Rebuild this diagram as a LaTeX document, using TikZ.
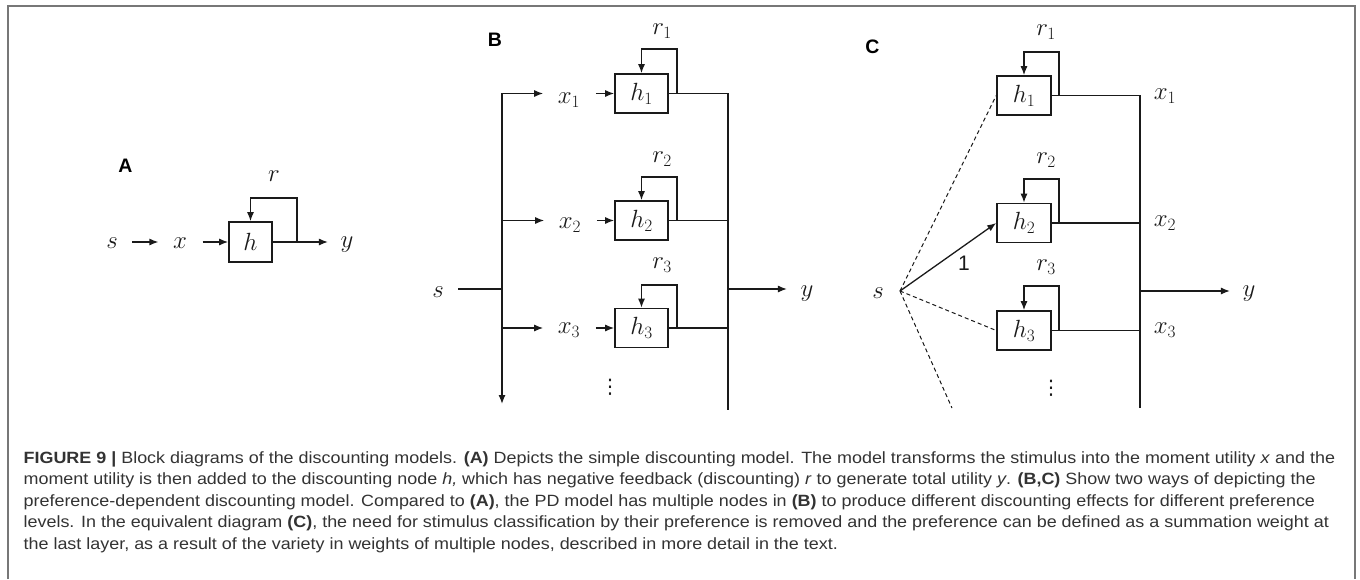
\documentclass[tikz,border=0pt]{standalone}
\usepackage{fontspec}
\usetikzlibrary{arrows.meta}
\newfontfamily\capfont[FakeStretch=1.1]{Liberation Sans}
\newfontfamily\labfont{Liberation Sans}
\newfontfamily\dvfont{DejaVu Sans}
\definecolor{ink}{HTML}{1A1A1A}
\definecolor{captxt}{HTML}{333333}
\definecolor{framec}{HTML}{777777}
\newcommand\mfont{\fontsize{27}{30}\selectfont}
\begin{document}
\begin{tikzpicture}[x=1pt,y=-1pt,color=ink,line width=1.3pt,
  blk/.style={draw=ink,line width=1.6pt,minimum width=53pt,minimum height=39pt,inner sep=0pt,font=\mfont},
  lbl/.style={inner sep=0pt,font=\mfont,text=ink},
  vd/.style={inner sep=0pt,text=ink,font=\dvfont\fontsize{20}{20}\selectfont},
  arr/.style={-{Latex[length=9pt,width=7pt]}},
  arrboth/.style={{Latex[length=9pt,width=7pt]}-{Latex[length=9pt,width=7pt]}},
  dsh/.style={dash pattern=on 4pt off 3pt,line width=1pt},
  panel/.style={inner sep=0pt,text=black,font=\labfont\bfseries\fontsize{19.5}{20}\selectfont},
  captext/.style={anchor=base west,inner sep=0pt,text=captxt,font=\capfont\fontsize{16.3}{18}\selectfont}]
\useasboundingbox (0,0) rectangle (1360,579);
\fill[white] (0,0) rectangle (1360,579);
\draw[framec,line width=2pt] (8,579) -- (8,6) -- (1355,6) -- (1355,579);

% ---------------- Panel A
\node[panel] (labA) at (125.5,166) {A};
\node[lbl] (sA) at (112,243) {$s$};
\node[lbl] (xA) at (180,243) {$x$};
\node[blk,minimum width=43pt,minimum height=40pt] (hA) at (250.5,242) {$h$};
\node[lbl] (yA) at (347,245) {$y$};
\node[lbl] (rA) at (274,176) {$r$};
\coordinate (lA) at (297,198);
\draw[arr,shorten <=14pt,shorten >=14pt] (sA.east |- hA.west) -- (xA.west |- hA.west);
\draw[arr,shorten <=15pt] (xA.east |- hA.west) -- (hA.west);
\draw[arr,shorten >=12pt] (hA.east) -- (yA.west |- hA.east);
\draw[arr] (lA |- hA.east) -- (lA) -| (hA.north);

% ---------------- Panel B
\node[panel] (labB) at (495,40) {B};
\node[lbl] (sB) at (438,292) {$s$};
\node[blk] (h1B) at (641.5,93.5) {$h_1$};
\node[blk] (h2B) at (641.5,220.5) {$h_2$};
\node[blk] (h3B) at (641.5,328) {$h_3$};
\node[lbl] (x1B) at (569,100) {$x_1$};
\node[lbl] (x2B) at (570,225) {$x_2$};
\node[lbl] (x3B) at (569,330) {$x_3$};
\node[lbl] (r1B) at (662,31) {$r_1$};
\node[lbl] (r2B) at (662,159) {$r_2$};
\node[lbl] (r3B) at (662,265) {$r_3$};
\node[lbl] (yB) at (807,294) {$y$};
\node[vd] (dotsB) at (610,387) {⋮};
\coordinate (jB) at (502,289);
\coordinate (tB) at (502,93.5);
\coordinate (bB) at (502,404);
\coordinate (rbB) at (728,410);
\coordinate (oB) at (728,289);
\coordinate (l1B) at (677,49);
\coordinate (l2B) at (677,177);
\coordinate (l3B) at (677,285);
\draw[shorten <=14pt] (sB.east |- jB) -- (jB);
\draw[arrboth,shorten >=14pt] (bB) -- (tB) -- (x1B.west |- h1B.west);
\draw[arr,shorten >=14pt] (tB |- h2B.west) -- (x2B.west |- h2B.west);
\draw[arr,shorten >=14pt] (tB |- h3B.west) -- (x3B.west |- h3B.west);
\draw[arr,shorten <=15pt] (x1B.east |- h1B.west) -- (h1B.west);
\draw[arr,shorten <=15pt] (x2B.east |- h2B.west) -- (h2B.west);
\draw[arr,shorten <=15pt] (x3B.east |- h3B.west) -- (h3B.west);
\draw (h1B.east) -| (rbB);
\draw (h2B.east) -- (h2B.east -| rbB);
\draw (h3B.east) -- (h3B.east -| rbB);
\draw[arr] (l1B |- h1B.east) -- (l1B) -| (h1B.north);
\draw[arr] (l2B |- h2B.east) -- (l2B) -| (h2B.north);
\draw[arr] (l3B |- h3B.east) -- (l3B) -| (h3B.north);
\draw[arr,shorten >=13pt] (oB) -- (yB.west |- oB);

% ---------------- Panel C
\node[panel] (labC) at (872.5,46.5) {C};
\node[lbl] (sCl) at (878,293.5) {$s$};
\coordinate (sC) at (900,291);
\node[blk,minimum width=54pt] (h1C) at (1024,95.5) {$h_1$};
\node[blk,minimum width=54pt] (h2C) at (1024,223) {$h_2$};
\node[blk,minimum width=54pt] (h3C) at (1024,330.5) {$h_3$};
\node[lbl] (x1C) at (1165,96) {$x_1$};
\node[lbl] (x2C) at (1165,223.5) {$x_2$};
\node[lbl] (x3C) at (1165,330) {$x_3$};
\node[lbl] (r1C) at (1046,32.5) {$r_1$};
\node[lbl] (r2C) at (1046,160) {$r_2$};
\node[lbl] (r3C) at (1046,267) {$r_3$};
\node[lbl] (yC) at (1249,293.5) {$y$};
\node[inner sep=0pt,text=ink,font=\labfont\fontsize{21}{21}\selectfont] (oneC) at (964,263) {1};
\node[vd] (dotsC) at (1051,388) {⋮};
\coordinate (dC) at (952,408);
\coordinate (rbC) at (1140,408);
\coordinate (oC) at (1140,291);
\coordinate (l1C) at (1059,52);
\coordinate (l2C) at (1059,179);
\coordinate (l3C) at (1059,286);
\draw[dsh] (sC) -- (h1C.west);
\draw[dsh] (sC) -- (h3C.west);
\draw[dsh] (sC) -- (dC);
\draw[arr] (sC) -- (h2C.west);
\draw (h1C.east) -| (rbC);
\draw (h2C.east) -- (h2C.east -| rbC);
\draw (h3C.east) -- (h3C.east -| rbC);
\draw[arr] (l1C |- h1C.east) -- (l1C) -| (h1C.north);
\draw[arr] (l2C |- h2C.east) -- (l2C) -| (h2C.north);
\draw[arr] (l3C |- h3C.east) -- (l3C) -| (h3C.north);
\draw[arr,shorten >=12pt] (oC) -- (yC.west |- oC);

% ---------------- Caption
\node[captext] (cap1) at (23,463) {\textbf{FIGURE 9 |} Block diagrams of the discounting models. \textbf{(A)} Depicts the simple discounting model. The model transforms the stimulus into the moment utility \textit{x} and the};
\node[captext] (cap2) at (23,484.5) {moment utility is then added to the discounting node \textit{h,} which has negative feedback (discounting) \textit{r} to generate total utility \textit{y}. \textbf{(B,C)} Show two ways of depicting the};
\node[captext] (cap3) at (23,506) {preference-dependent discounting model. Compared to \textbf{(A)}, the PD model has multiple nodes in \textbf{(B)} to produce different discounting effects for different preference};
\node[captext] (cap4) at (23,527.5) {levels. In the equivalent diagram \textbf{(C)}, the need for stimulus classification by their preference is removed and the preference can be defined as a summation weight at};
\node[captext] (cap5) at (23,549) {the last layer, as a result of the variety in weights of multiple nodes, described in more detail in the text.};
\end{tikzpicture}
\end{document}
